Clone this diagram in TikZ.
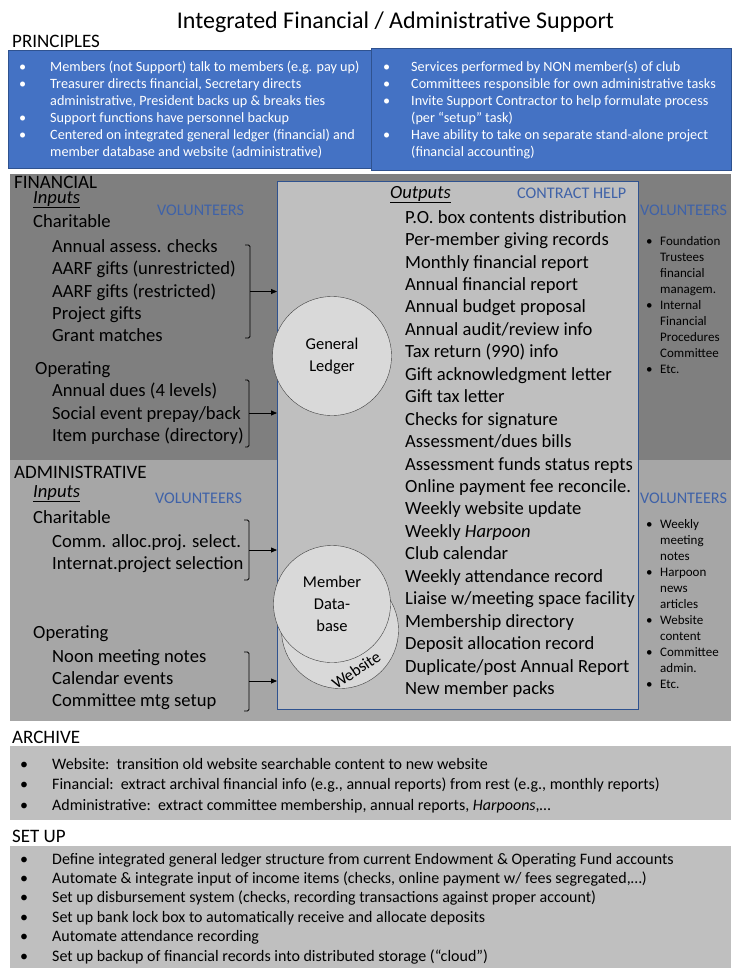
\documentclass[tikz,border=0pt]{standalone}
\usepackage{fontspec}
\setmainfont{Carlito}
\usetikzlibrary{arrows.meta, positioning, calc}
\definecolor{slideblue}{HTML}{4472C4}
\definecolor{slideline}{HTML}{2F528F}
\definecolor{fingray}{HTML}{7F7F7F}
\definecolor{admgray}{HTML}{A6A6A6}
\definecolor{outgray}{HTML}{BFBFBF}
\definecolor{hubgray}{HTML}{D9D9D9}
\definecolor{voltext}{HTML}{3F62A8}

\begin{document}
\begin{tikzpicture}[
  x=1pt, y=-1pt,
  sechead/.style={anchor=base west, inner sep=0pt, font=\fontsize{19}{22}\selectfont},
  subhead/.style={anchor=base west, inner sep=0pt, font=\fontsize{18.6}{22}\selectfont},
  itemlist/.style={anchor=north west, inner sep=0pt, align=left, font=\fontsize{18.6}{22.45}\selectfont},
  voltag/.style={anchor=base west, inner sep=0pt, text=voltext, font=\fontsize{16.2}{18}\selectfont},
  volnotes/.style={anchor=north west, inner sep=0pt, font=\fontsize{13}{16}\selectfont},
  notes/.style={anchor=north west, inner sep=0pt, font=\fontsize{14.2}{17}\selectfont},
  hub/.style={circle, draw=black!75, fill=hubgray, inner sep=0pt, align=center, font=\fontsize{16.5}{22}\selectfont},
  feed/.style={-{Triangle[length=6pt, width=5pt]}, line width=0.8pt},
  brace/.style={line width=0.8pt, rounded corners=1.5pt},
]
  \useasboundingbox (0,0) rectangle (737,974);

  % Title
  \node[font=\fontsize{24}{28}\selectfont] (title) at (395.5,22) {Integrated Financial / Administrative Support};

  % Principles
  \node[sechead] (prinhead) at (12,48) {PRINCIPLES};
  \draw[slideline, fill=slideblue, line width=0.8pt] (8,50) rectangle (371,168);
  \draw[slideline, fill=slideblue, line width=0.8pt] (371,48) rectangle (731,170);
  \node[notes, text=white] (prinleft) at (19,59.6) {\begin{tabular}{@{}p{31pt}@{}l@{}}
    \textbullet & Members (not Support) talk to members (e.g. pay up)\\
    \textbullet & Treasurer directs financial, Secretary directs\\
                & administrative, President backs up \& breaks ties\\
    \textbullet & Support functions have personnel backup\\
    \textbullet & Centered on integrated general ledger (financial) and\\
                & member database and website (administrative)
  \end{tabular}};
  \node[notes, text=white] (prinright) at (383,59.6) {\begin{tabular}{@{}p{28pt}@{}l@{}}
    \textbullet & Services performed by NON member(s) of club\\
    \textbullet & Committees responsible for own administrative tasks\\
    \textbullet & Invite Support Contractor to help formulate process\\
                & (per ``setup'' task)\\
    \textbullet & Have ability to take on separate stand-alone project\\
                & (financial accounting)
  \end{tabular}};

  % Financial and administrative bands
  \fill[fingray] (10,174) rectangle (731,460);
  \fill[admgray] (10,460) rectangle (731,721);

  % Outputs box with the hubs
  \node[draw=slideline, fill=outgray, line width=0.8pt, inner sep=0pt, anchor=north west,
        minimum width=361pt, minimum height=528pt] (outbox) at (277,181) {};
  \node[subhead] (outhead) at (390,198) {\underline{\textit{Outputs}}};
  \node[voltag] (contract) at (517,198) {CONTRACT HELP};
  \node[itemlist] (outlist) at (405,210) {P.O. box contents distribution\\
    Per-member giving records\\
    Monthly financial report\\
    Annual financial report\\
    Annual budget proposal\\
    Annual audit/review info\\
    Tax return (990) info\\
    Gift acknowledgment letter\\
    Gift tax letter\\
    Checks for signature\\
    Assessment/dues bills\\
    Assessment funds status repts\\
    Online payment fee reconcile.\\
    Weekly website update\\
    Weekly \textit{Harpoon}\\
    Club calendar\\
    Weekly attendance record\\
    Liaise w/meeting space facility\\
    Membership directory\\
    Deposit allocation record\\
    Duplicate/post Annual Report\\
    New member packs};

  \node[hub, minimum size=119pt] (ledger) at (332,356) {General\\Ledger};
  \node[hub, minimum size=117pt] (website) at (340,630) {};
  \node[hub, minimum size=117pt] (memberdb) at (332,604) {Member\\Data-\\base};
  \node[rotate=34, font=\fontsize{16.5}{20}\selectfont, inner sep=0pt] (weblabel) at (356,670) {Website};

  % Financial inputs
  \node[sechead] (finhead) at (14,188) {FINANCIAL};
  \node[subhead] (fininputs) at (33,203) {\underline{\textit{Inputs}}};
  \node[voltag] (finvol) at (157,215) {VOLUNTEERS};
  \node[subhead] (fincharhead) at (33,227) {Charitable};
  \node[itemlist] (finchar) at (52,239) {Annual assess. checks\\
    AARF gifts (unrestricted)\\
    AARF gifts (restricted)\\
    Project gifts\\
    Grant matches};
  \node[subhead] (finophead) at (35,374) {Operating};
  \node[itemlist] (finop) at (52,383) {Annual dues (4 levels)\\
    Social event prepay/back\\
    Item purchase (directory)};

  \coordinate (fcbr) at (250,291.5);
  \coordinate (fobr) at (249,413);
  \draw[brace] (245,245) -- (250,245) -- (250,338) -- (245,338);
  \draw[brace] (245,380) -- (249,380) -- (249,447) -- (245,447);
  \draw[feed] (fcbr) -- (fcbr -| outbox.west);
  \draw[feed] (fobr) -- (fobr -| outbox.west);

  % Financial volunteers
  \node[voltag] (finvol2) at (640,215) {VOLUNTEERS};
  \node[volnotes] (finnotes) at (646,234.3) {\begin{tabular}{@{}p{14pt}@{}l@{}}
    \textbullet & Foundation\\ & Trustees\\ & financial\\ & managem.\\
    \textbullet & Internal\\ & Financial\\ & Procedures\\ & Committee\\
    \textbullet & Etc.
  \end{tabular}};

  % Administrative inputs
  \node[sechead] (admhead) at (14,478) {ADMINISTRATIVE};
  \node[subhead] (adminputs) at (33,497) {\underline{\textit{Inputs}}};
  \node[voltag] (admvol) at (155,503) {VOLUNTEERS};
  \node[subhead] (admcharhead) at (33,523) {Charitable};
  \node[itemlist] (admchar) at (52,534) {Comm. alloc.proj. select.\\
    Internat.project selection};
  \node[subhead] (admophead) at (33,638) {Operating};
  \node[itemlist] (admop) at (52,649) {Noon meeting notes\\
    Calendar events\\
    Committee mtg setup};

  \coordinate (acbr) at (249,550);
  \coordinate (aobr) at (249,681);
  \draw[brace] (244,520) -- (249,520) -- (249,580) -- (244,580);
  \draw[brace] (244,652) -- (249,652) -- (249,711) -- (244,711);
  \draw[feed] (acbr) -- (acbr -| outbox.west);
  \draw[feed] (aobr) -- (aobr -| outbox.west);

  % Administrative volunteers
  \node[voltag] (admvol2) at (640,503) {VOLUNTEERS};
  \node[volnotes] (admnotes) at (646,517.3) {\begin{tabular}{@{}p{14pt}@{}l@{}}
    \textbullet & Weekly\\ & meeting\\ & notes\\
    \textbullet & Harpoon\\ & news\\ & articles\\
    \textbullet & Website\\ & content\\
    \textbullet & Committee\\ & admin.\\
    \textbullet & Etc.
  \end{tabular}};

  % Archive
  \node[sechead] (archhead) at (12,743) {ARCHIVE};
  \fill[outgray] (10,746) rectangle (731,820);
  \node[notes, font=\fontsize{16}{20.5}\selectfont] (archlist) at (20,754.7) {\begin{tabular}{@{}p{32pt}@{}l@{}}
    \textbullet & Website:\ \ transition old website searchable content to new website\\
    \textbullet & Financial:\ \ extract archival financial info (e.g., annual reports) from rest (e.g., monthly reports)\\
    \textbullet & Administrative:\ \ extract committee membership,\ annual reports, \textit{Harpoons},\dots
  \end{tabular}};

  % Set up
  \node[sechead] (setuphead) at (12,842) {SET UP};
  \fill[outgray] (10,846) rectangle (731,968);
  \node[notes, font=\fontsize{16}{19.4}\selectfont] (setuplist) at (20,850.4) {\begin{tabular}{@{}p{32pt}@{}l@{}}
    \textbullet & Define integrated general ledger structure from current Endowment \& Operating Fund accounts\\
    \textbullet & Automate \& integrate input of income items (checks, online payment w/ fees segregated,\dots)\\
    \textbullet & Set up disbursement system (checks, recording transactions against proper account)\\
    \textbullet & Set up bank lock box to automatically receive and allocate deposits\\
    \textbullet & Automate\ attendance recording\\
    \textbullet & Set up backup of financial records into distributed storage (``cloud'')
  \end{tabular}};
\end{tikzpicture}
\end{document}
